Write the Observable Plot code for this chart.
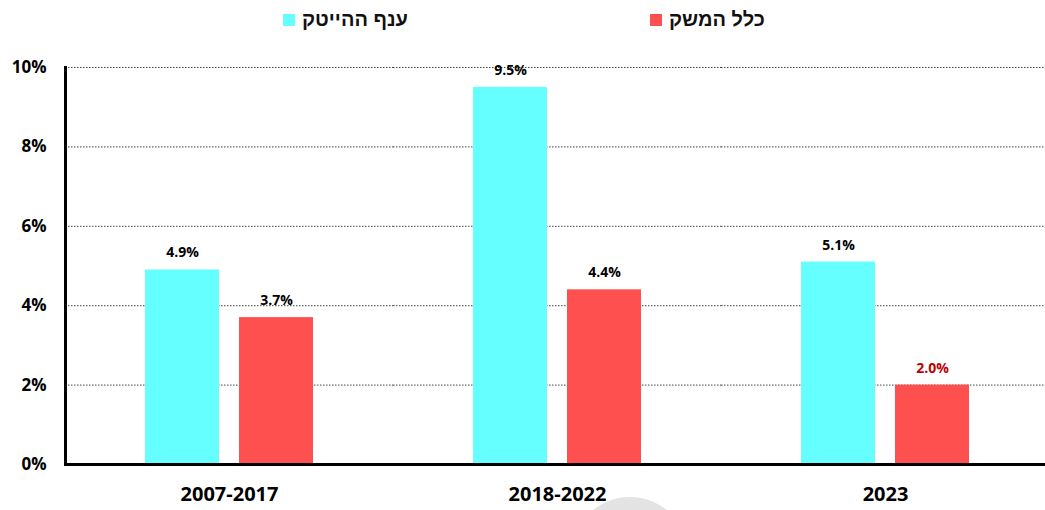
<!DOCTYPE html>
<html><head><meta charset="utf-8">
<script src="https://cdn.jsdelivr.net/npm/d3@7"></script>
<script src="https://cdn.jsdelivr.net/npm/@observablehq/plot@0.6"></script>
<style>
body{margin:0;background:#fff;width:1045px;height:510px;overflow:hidden;position:relative;font-family:"Open Sans",sans-serif}
#legend{position:relative;height:45px}
.item{position:absolute;top:8px;display:flex;align-items:center;gap:7px;font-family:"Liberation Sans",Arial,sans-serif;font-weight:bold;font-size:20px;color:#111}
.sw{width:12px;height:12px;display:inline-block}
#chart{position:relative;z-index:1}
</style></head>
<body>
<div id="legend"></div>
<div id="chart"></div>
<script>
const groups = ["2007-2017", "2018-2022", "2023"];
const series = ["ענף ההייטק", "כלל המשק"];
const hitech = [4.9, 9.5, 5.1];
const economy = [3.7, 4.4, 2.0];
const yTicks = [0, 2, 4, 6, 8, 10];
const gridTicks = [2, 4, 6, 8, 10];
const colors = ["#66FFFF", "#FF5050"];

const data = groups.flatMap((g, i) => [
  {group: g, series: series[0], value: hitech[i]},
  {group: g, series: series[1], value: economy[i]}
]);

const legend = document.getElementById("legend");
[[series[0], colors[0], 283], [series[1], colors[1], 650]].forEach(([name, c, left]) => {
  const it = document.createElement("div");
  it.className = "item";
  it.style.left = left + "px";
  it.innerHTML = `<span class="sw" style="background:${c}"></span><span dir="rtl">${name}</span>`;
  legend.appendChild(it);
});

const last = groups[groups.length - 1];
const chart = Plot.plot({
  width: 1045,
  height: 465,
  marginLeft: 65,
  marginRight: 0,
  marginTop: 22,
  marginBottom: 46,
  style: {fontFamily: "Open Sans, sans-serif", color: "#000", background: "transparent"},
  facet: {data, x: "group"},
  fx: {domain: groups, range: [65, 1049], padding: 0, label: null},
  x: {domain: series, paddingInner: 0.213, paddingOuter: 0.85, axis: null},
  y: {domain: [0, 10], label: null},
  color: {domain: series, range: colors},
  marks: [
    Plot.ruleY(gridTicks, {stroke: "#444", strokeDasharray: "1.5,1.5", strokeWidth: 1}),
    Plot.barY(data, {x: "series", y: "value", fill: "series"}),
    Plot.ruleY([0], {stroke: "#000", strokeWidth: 3}),
    Plot.frame({anchor: "left", facetAnchor: "left", stroke: "#000", strokeWidth: 3}),
    Plot.axisY({ticks: yTicks, tickFormat: d => d + "%", tickSize: 0, tickPadding: 19,
      fontSize: 17, fontWeight: "bold", label: null}),
    Plot.axisFx({anchor: "bottom", tickSize: 0, tickPadding: 22, fontSize: 20, fontWeight: "bold", label: null}),
    Plot.text(data, {x: "series", y: "value", text: d => d.value.toFixed(1) + "%", dy: -17,
      fontSize: 14, fontWeight: "bold",
      fill: d => (d.group === last && d.series === series[1]) ? "#C00000" : "#000"})
  ]
});
document.getElementById("chart").appendChild(chart);
</script>
<div style="position:absolute;left:571px;top:497px;width:118px;height:118px;border-radius:50%;background:#e3e3e3;z-index:0"></div>
</body></html>
